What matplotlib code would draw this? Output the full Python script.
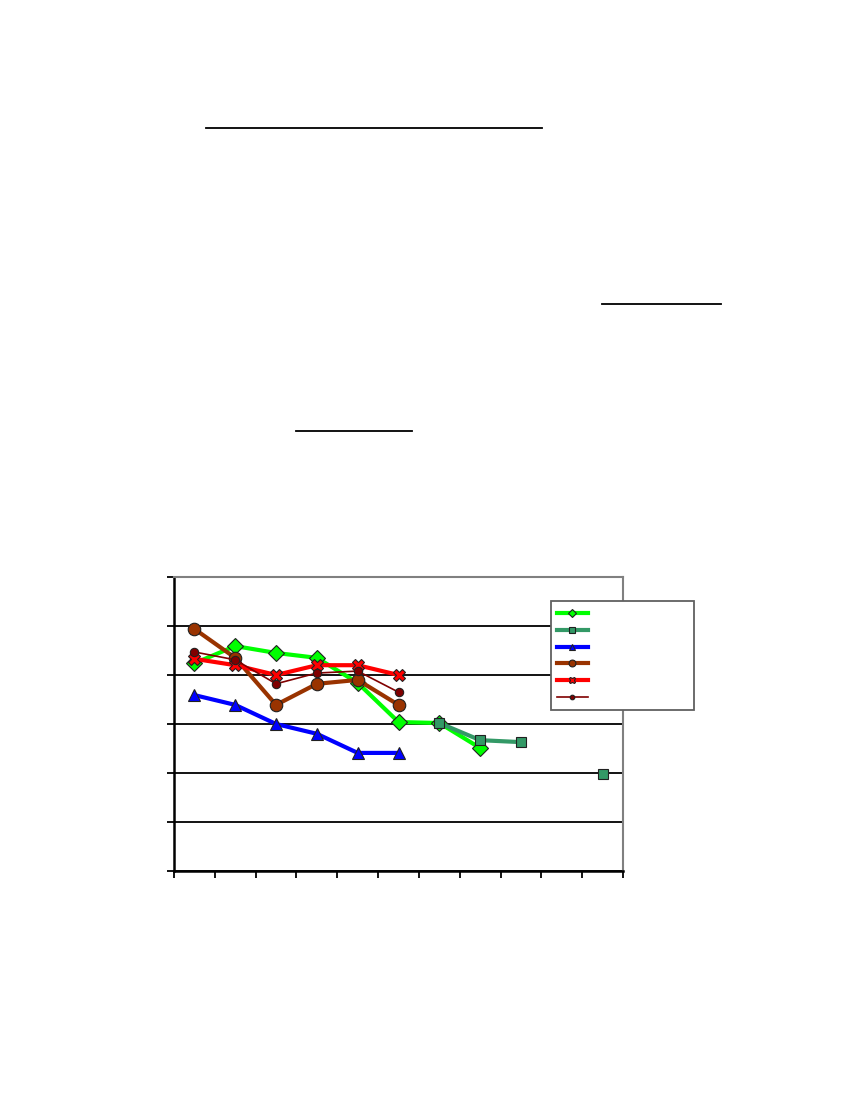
import numpy as np
import matplotlib
matplotlib.use("Agg")
import matplotlib.pyplot as plt
from matplotlib.lines import Line2D

# categories along x (no labels are shown in the reference)
categories = list(range(1, 12))

nan = np.nan
# series values (unit = one gridline)
s_green = [4.24, 4.59, 4.45, 4.35, 3.84, 3.04, 3.02, 2.51, nan, nan, nan]
s_teal = [nan, nan, nan, nan, nan, nan, 3.02, 2.67, 2.63, nan, 1.98]
s_blue = [3.59, 3.39, 3.00, 2.80, 2.41, 2.41, nan, nan, nan, nan, nan]
s_brown = [4.94, 4.35, 3.39, 3.82, 3.90, 3.39, nan, nan, nan, nan, nan]
s_red = [4.33, 4.20, 4.00, 4.20, 4.20, 4.00, nan, nan, nan, nan, nan]
s_darkred = [4.47, 4.31, 3.82, 4.04, 4.08, 3.65, nan, nan, nan, nan, nan]

series = [s_green, s_teal, s_blue, s_brown, s_red, s_darkred]
colors = ['#00FF00', '#339966', '#0000FF', '#993300', '#FF0000', '#800000']
markers = ['D', 's', '^', 'o', 'X', 'o']
msizes = [8, 7, 9, 9, 9, 6]
lwidths = [3, 3, 3, 3, 3, 1.2]

fig = plt.figure(figsize=(8.5, 11), dpi=100)

# underlines on the page (their text is not rendered in the reference)
for x0, x1, y in [(206, 542, 128), (602, 721, 304), (296, 412, 431)]:
    fig.add_artist(Line2D([x0 / 850, x1 / 850], [1 - y / 1100, 1 - y / 1100],
                          color='black', lw=1.3, transform=fig.transFigure))

ax = fig.add_axes([174 / 850, 229 / 1100, 449 / 850, 294 / 1100])

x = np.arange(len(categories))
handles = []
for vals, c, m, ms, lw in zip(series, colors, markers, msizes, lwidths):
    ln, = ax.plot(x, vals, color=c, lw=lw, marker=m, markersize=ms,
                  markerfacecolor=c, markeredgecolor='#202020',
                  markeredgewidth=0.8, solid_joinstyle='miter')
    handles.append(ln)

ax.set_xlim(-0.5, len(categories) - 0.5)
ax.set_ylim(0, 6)

ax.set_yticks(range(0, 7))
ax.set_yticklabels([])
ax.yaxis.grid(True, color='black', lw=1.3)
ax.set_axisbelow(True)
ax.set_xticks(np.arange(-0.5, len(categories)))
ax.set_xticklabels([])
ax.tick_params(direction='out', length=5, width=1.3, color='black')

for side in ['left', 'bottom']:
    ax.spines[side].set_color('black')
    ax.spines[side].set_linewidth(1.8)
for side in ['top', 'right']:
    ax.spines[side].set_color('#808080')
    ax.spines[side].set_linewidth(1.5)

leg = fig.legend(handles, [''] * len(handles),
                 loc='upper left',
                 bbox_to_anchor=(551 / 850, 1 - 601 / 1100, 143 / 850, 0.0),
                 mode='expand', borderaxespad=0, markerscale=0.55,
                 handlelength=2.6, fontsize=8.5, labelspacing=0.33,
                 borderpad=0.5, frameon=True, fancybox=False, framealpha=1)
leg.get_frame().set_edgecolor('#606060')
leg.get_frame().set_linewidth(1.3)

fig.savefig('out.png', dpi=100)
